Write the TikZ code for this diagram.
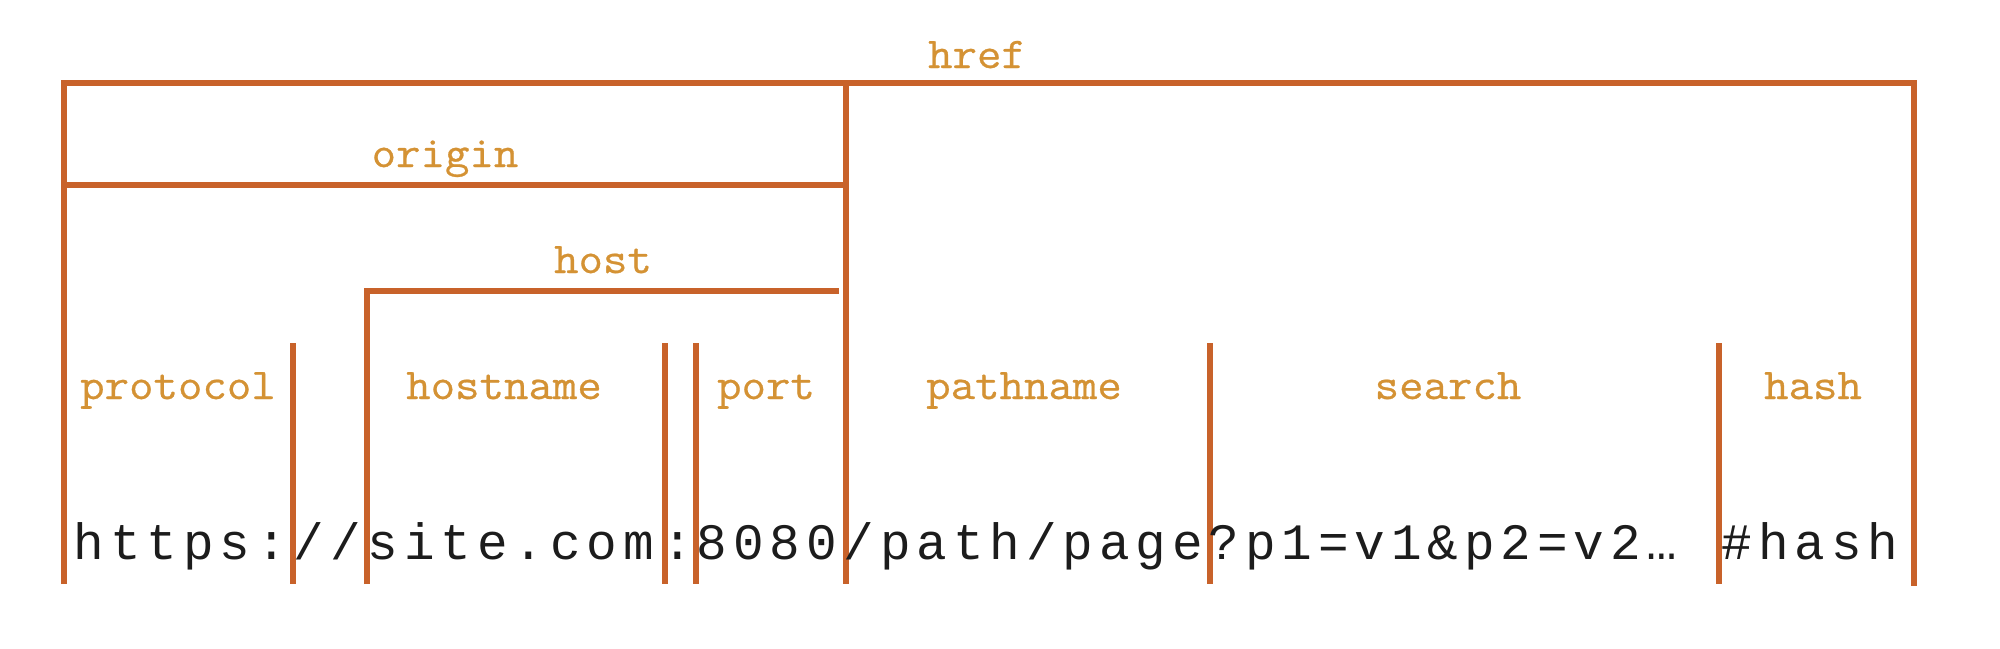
\documentclass[tikz,border=0pt]{standalone}
\usepackage{fontspec}
\newfontfamily\lblfont[FakeStretch=1.08, FakeBold=0.6]{Latin Modern Mono}
\newfontfamily\urlfont[LetterSpace=11.6]{Liberation Mono}
\definecolor{barc}{RGB}{200,98,42}
\definecolor{lblc}{RGB}{212,146,52}
\definecolor{urlc}{RGB}{28,28,28}

\begin{document}
\begin{tikzpicture}[
    x=0.01cm, y=-0.01cm,
    bar/.style={draw=barc, line width=1.45pt},
    lbl/.style={text=lblc, font=\lblfont\fontsize{12.5}{15}\selectfont,
      inner sep=0pt, anchor=base},
    seg/.style={text=urlc, font=\urlfont\fontsize{14.5}{17}\selectfont,
      inner sep=0pt, anchor=base west}
  ]
    \useasboundingbox (0,0) rectangle (2000,648);

    % brackets: href, origin, host
    \draw[bar] (64,584) -- (64,83) -- (1914,83) -- (1914,586);
    \draw[bar] (846,83) -- (846,584);
    \draw[bar] (64,185) -- (846,185);
    \draw[bar] (367,584) -- (367,291) -- (839,291);
    \foreach \x in {293,665,696,1210,1719} {
      \draw[bar] (\x,343) -- (\x,584);
    }

    % part names
    \foreach \x/\y/\t in {977/68/href, 445/167/origin, 603/273/host,
        178/399/protocol, 504/399/hostname, 766/399/port,
        1024/399/pathname, 1448/399/search, 1813/399/hash} {
      \node[lbl] (\t) at (\x,\y) {\t};
    }

    % the url itself
    \node[seg] (u-protocol) at (73,559) {https:};
    \node[seg] (u-slashes) at (293,559) {//};
    \node[seg] (u-hostname) at (367,559) {site.com};
    \node[seg] (u-colon) at (662,559) {:};
    \node[seg] (u-port) at (696,559) {8080};
    \node[seg] (u-pathname) at (843,559) {/path/page};
    \node[seg] (u-search) at (1208,559) {?p1=v1\&p2=v2…};
    \node[seg] (u-hash) at (1721,559) {\#hash};
  \end{tikzpicture}
\end{document}
